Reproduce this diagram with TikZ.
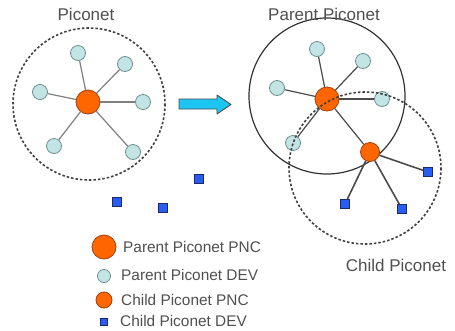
\documentclass[tikz,border=0pt]{standalone}
\usepackage{fontspec}
\setmainfont{Liberation Sans}
\definecolor{pncorange}{HTML}{FF6600}
\definecolor{pncedge}{HTML}{A04010}
\definecolor{devcyan}{HTML}{C2E4E4}
\definecolor{devedge}{HTML}{6F8F8F}
\definecolor{sqblue}{HTML}{2B5CF2}
\definecolor{sqedge}{HTML}{1A2870}
\definecolor{arrowcyan}{HTML}{1CC6F0}
\definecolor{labelgray}{HTML}{505050}
\tikzset{
  pnc/.style = {circle, draw = pncedge, fill = pncorange, line width = 0.8pt, minimum size = 24pt, inner sep = 0pt},
  cpnc/.style = {circle, draw = pncedge, fill = pncorange, line width = 0.8pt, minimum size = 19pt, inner sep = 0pt},
  dev/.style = {circle, draw = devedge, fill = devcyan, line width = 0.8pt, minimum size = 15pt, inner sep = 0pt},
  cdev/.style = {rectangle, draw = sqedge, fill = sqblue, line width = 0.8pt, minimum size = 8.5pt, inner sep = 0pt},
  link/.style = {draw = gray, line width = 1.2pt},
  darklink/.style = {draw = black!70, line width = 1.2pt},
  title/.style = {text = labelgray, font = \fontsize{17}{19}\selectfont, inner sep = 0pt, anchor = base},
  legend/.style = {text = labelgray, font = \fontsize{15.4}{17}\selectfont, inner sep = 0pt, anchor = base west}
}
\begin{document}
\begin{tikzpicture}[x = 1pt, y = -1pt]
  \useasboundingbox [fill = white] (0, 0) rectangle (455, 330);
  % left piconet
  \node (lp) at (88, 102) [pnc] {};
  \node (ld1) at (78, 53) [dev] {};
  \node (ld2) at (125, 64) [dev] {};
  \node (ld3) at (40, 92) [dev] {};
  \node (ld4) at (143, 102) [dev] {};
  \node (ld5) at (54, 146) [dev] {};
  \node (ld6) at (133, 152) [dev] {};
  \foreach \d in {ld1, ld2, ld3, ld5, ld6}
    \draw [link] (lp) -- (\d);
  \draw [link, line width = 2pt] (lp) -- (ld4);
  \draw [black!75, line width = 1.6pt, dash pattern = on 2.5pt off 2pt] (89, 104) circle (76);
  \node at (86, 20) [title] {Piconet};
  % free devices
  \node (fs1) at (199, 179) [cdev] {};
  \node (fs2) at (117, 202) [cdev] {};
  \node (fs3) at (163, 208) [cdev] {};
  % arrow
  \draw [fill = arrowcyan, draw = black!70, line width = 0.9pt, line join = round] (179, 99) -- (217, 99) -- (217, 95) -- (231, 104.5) -- (217, 114) -- (217, 109) -- (179, 109) -- cycle;
  % right piconets
  \draw [black!80, line width = 1.2pt] (327, 96) circle (78);
  \node (rp) at (327, 99) [pnc] {};
  \node (rd1) at (317, 49) [dev] {};
  \node (rd2) at (363, 61) [dev] {};
  \node (rd3) at (277, 88) [dev] {};
  \node (rd4) at (382, 99) [dev] {};
  \node (rd5) at (293, 143) [dev] {};
  \node (cp) at (370, 152) [cpnc] {};
  \node (cs1) at (428, 172) [cdev] {};
  \node (cs2) at (345, 204) [cdev] {};
  \node (cs3) at (402, 209) [cdev] {};
  \foreach \d in {rd1, rd2, rd3, rd4, rd5, cp}
    \draw [darklink] (rp) -- (\d);
  \foreach \s in {cs1, cs2, cs3}
    \draw [darklink, line width = 1.6pt] (cp) -- (\s);
  \draw [black!75, line width = 1.6pt, dash pattern = on 2.5pt off 2pt] (365, 168) circle (76);
  \node at (324, 20) [title] {Parent Piconet};
  \node at (396, 271) [title] {Child Piconet};
  % legend
  \node (kp) at (104, 247) [pnc] {};
  \node (kd) at (104, 276) [dev, minimum size = 13pt] {};
  \node (kc) at (104, 300) [cpnc, minimum size = 16pt] {};
  \node (ks) at (104, 322) [cdev, minimum size = 7.5pt] {};
  \node at (123, 252) [legend] {Parent Piconet PNC};
  \node at (121, 280.5) [legend] {Parent Piconet DEV};
  \node at (121, 305.5) [legend] {Child Piconet PNC};
  \node at (120, 326.5) [legend] {Child Piconet DEV};
\end{tikzpicture}
\end{document}
